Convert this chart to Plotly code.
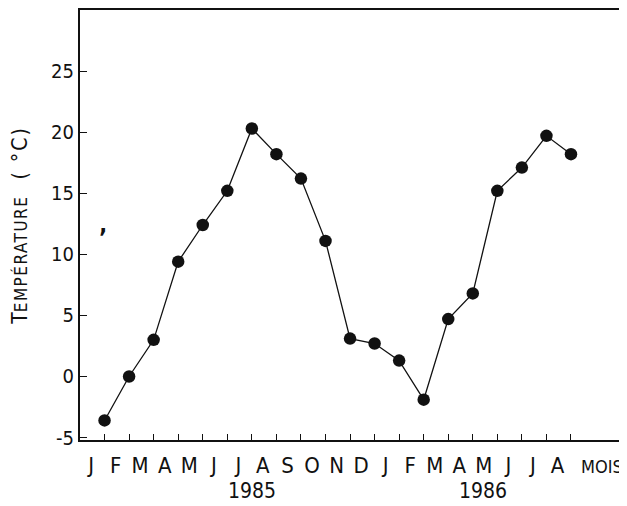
import plotly.graph_objects as go

months = ["J", "F", "M", "A", "M", "J", "J", "A", "S", "O", "N", "D",
          "J", "F", "M", "A", "M", "J", "J", "A"]
month_index = list(range(1, 21))
temperature = [-3.6, 0.0, 3.0, 9.4, 12.4, 15.2, 20.3, 18.2, 16.2, 11.1,
               3.1, 2.7, 1.3, -1.9, 4.7, 6.8, 15.2, 17.1, 19.7, 18.2]
years = ["1985", "1986"]
year_pos = [7.0, 16.4]
y_ticks = [-5, 0, 5, 10, 15, 20, 25]

FONT = "DejaVu Sans Condensed"
INK = "#111111"

fig = go.Figure()
fig.add_trace(go.Scatter(
    x=month_index, y=temperature, mode="lines+markers",
    line=dict(color=INK, width=1.3),
    marker=dict(color=INK, size=12.5),
    showlegend=False, hoverinfo="skip"))

label_pos = [i - 0.55 for i in month_index]

fig.update_layout(
    width=627, height=506,
    margin=dict(l=72, r=10, t=0, b=74),
    plot_bgcolor="white", paper_bgcolor="white",
    font=dict(family=FONT, color=INK),
    xaxis=dict(range=[0, 22.2], showgrid=False, zeroline=False,
               showline=True, linecolor=INK, linewidth=2, mirror=True,
               tickmode="array", tickvals=label_pos, ticktext=months,
               ticks="", ticklabelstandoff=5,
               tickfont=dict(size=22, family=FONT, color=INK),
               minor=dict(tickmode="array", tickvals=month_index,
                          ticks="inside", ticklen=6, tickwidth=1.3, tickcolor=INK)),
    yaxis=dict(range=[-5.2, 30], showgrid=False, zeroline=False,
               showline=True, linecolor=INK, linewidth=2,
               tickmode="array", tickvals=y_ticks,
               ticktext=[str(v) for v in y_ticks],
               ticks="inside", ticklen=7, tickwidth=1.3, tickcolor=INK,
               tickfont=dict(size=20, family=FONT, color=INK),
               title=dict(text="T<span style='font-size:17px;letter-spacing:1.5px'>EMPÉRATURE</span>"
                               "<span style='letter-spacing:2px'>  ( °C)</span>",
                          font=dict(size=21, family=FONT, color=INK), standoff=24)),
)

fig.add_shape(type="line", xref="paper", yref="paper", x0=1, x1=1, y0=0, y1=1,
              line=dict(color="#cccccc", width=1))

for yr, xp in zip(years, year_pos):
    fig.add_annotation(x=xp, y=-0.119, xref="x", yref="paper", text=yr,
                       showarrow=False, font=dict(size=21, family=FONT, color=INK),
                       yanchor="middle")

fig.add_annotation(x=21.25, y=-0.062, xref="x", yref="paper", text="MOIS",
                   showarrow=False, font=dict(size=18, family=FONT, color=INK),
                   yanchor="middle")

fig.add_annotation(x=0.95, y=11.3, xref="x", yref="y", text="<b>’</b>",
                   showarrow=False, font=dict(size=24, family=FONT, color=INK))

fig.write_html("out.html")
